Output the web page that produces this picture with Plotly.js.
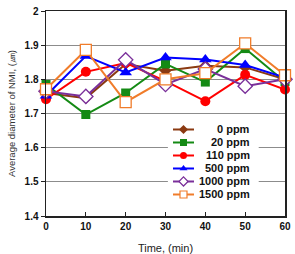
<!DOCTYPE html>
<html>
<head>
<meta charset="utf-8">
<script src="https://cdn.plot.ly/plotly-3.0.1.min.js"></script>
<style>
  html, body { margin: 0; padding: 0; background: #fff; }
  #chart { width: 295px; height: 254px; }
</style>
</head>
<body>
<div id="chart"></div>
<script>
// Sampling times (min)
const times = [0, 10, 20, 30, 40, 50, 60];

// Series names (addition level)
const seriesNames = ['0 ppm', '20 ppm', '110 ppm', '500 ppm', '1000 ppm', '1500 ppm'];

// Average inclusion diameter (µm) for each addition level
const ppm0    = [1.76, 1.745, 1.845, 1.825, 1.84, 1.835, 1.80];
const ppm20   = [1.785, 1.697, 1.76, 1.845, 1.792, 1.89, 1.793];
const ppm110  = [1.742, 1.822, 1.848, 1.795, 1.736, 1.813, 1.77];
const ppm500  = [1.752, 1.868, 1.82, 1.864, 1.858, 1.842, 1.805];
const ppm1000 = [1.765, 1.75, 1.857, 1.785, 1.83, 1.78, 1.80];
const ppm1500 = [1.771, 1.886, 1.733, 1.80, 1.818, 1.905, 1.812];

// Axis tick labels
const xTicks = [0, 10, 20, 30, 40, 50, 60];
const yTicks = [1.4, 1.5, 1.6, 1.7, 1.8, 1.9, 2.0];
const yTickText = ['1.4', '1.5', '1.6', '1.7', '1.8', '1.9', '2'];

const seriesValues = [ppm0, ppm20, ppm110, ppm500, ppm1000, ppm1500];

// Marker / line styling per series
const styles = [
  { color: '#8b3a12', symbol: 'diamond',     fill: '#8b3a12', size: 9 },
  { color: '#148a14', symbol: 'square',      fill: '#148a14', size: 9 },
  { color: '#ff0000', symbol: 'circle',      fill: '#ff0000', size: 10 },
  { color: '#0000ff', symbol: 'triangle-up', fill: '#0000ff', size: 11 },
  { color: '#7a2f9a', symbol: 'diamond',     fill: '#ffffff', size: 11 },
  { color: '#f07c2a', symbol: 'square',      fill: '#ffffff', size: 11 }
];

const FONT = 'Liberation Sans, Arial, Helvetica, sans-serif';

const traces = [];

// Data series
seriesNames.forEach((name, i) => {
  const s = styles[i];
  traces.push({
    type: 'scatter',
    mode: 'lines+markers',
    name: name,
    x: times,
    y: seriesValues[i],
    xaxis: 'x', yaxis: 'y',
    line: { color: s.color, width: 2 },
    marker: {
      symbol: s.symbol, size: s.size, color: s.fill,
      line: { color: s.color, width: s.fill === '#ffffff' ? 1.3 : 0 }
    },
    showlegend: false,
    cliponaxis: false
  });
});

// Compact key drawn on its own small axes, one row per series
seriesNames.forEach((name, i) => {
  const s = styles[i];
  traces.push({
    type: 'scatter',
    mode: 'lines+markers',
    x: [0, 0.5, 1],
    y: [name, name, name],
    xaxis: 'x2', yaxis: 'y2',
    line: { color: s.color, width: 2 },
    marker: {
      symbol: s.symbol, size: 7, color: s.fill,
      opacity: [0, 1, 0],
      line: { color: s.color, width: s.fill === '#ffffff' ? 1.2 : 0 }
    },
    showlegend: false,
    hoverinfo: 'skip'
  });
});

// Right-aligned key labels
const annotations = seriesNames.map(name => ({
  xref: 'paper', yref: 'y2',
  x: 0.858, y: name,
  xanchor: 'right', yanchor: 'middle',
  text: name,
  showarrow: false,
  borderpad: 0,
  font: { family: FONT, size: 11, color: '#111', weight: 'bold' }
}));

const layout = {
  width: 295,
  height: 254,
  margin: { l: 46, r: 10, t: 11, b: 38, pad: 0 },
  paper_bgcolor: '#ffffff',
  plot_bgcolor: '#ffffff',
  showlegend: false,
  font: { family: FONT, color: '#111' },
  xaxis: {
    range: [0, 60],
    tickvals: xTicks,
    ticks: 'inside',
    ticklen: 4,
    tickcolor: '#222',
    tickfont: { family: FONT, size: 10, color: '#111', weight: 'bold' },
    showgrid: false,
    zeroline: false,
    showline: true,
    linecolor: '#222',
    linewidth: 1.5,
    mirror: true,
    automargin: false,
    title: { text: 'Time, (min)', font: { family: FONT, size: 11, color: '#222' }, standoff: 22 }
  },
  yaxis: {
    range: [1.4, 2.0],
    tickvals: yTicks,
    ticktext: yTickText,
    ticks: 'outside',
    ticklen: 4,
    tickcolor: '#222',
    tickfont: { family: FONT, size: 10, color: '#111', weight: 'bold' },
    showgrid: true,
    gridcolor: '#8c8c8c',
    gridwidth: 1,
    zeroline: false,
    showline: true,
    linecolor: '#222',
    linewidth: 1.5,
    mirror: true,
    title: { text: 'Average diameter of NMI, (㎛)', font: { family: FONT, size: 9.5, color: '#333' }, standoff: 7 }
  },
  xaxis2: {
    domain: [0.5314, 0.6192],
    range: [0, 1],
    anchor: 'y2',
    visible: false,
    fixedrange: true
  },
  yaxis2: {
    domain: [0.0732, 0.4537],
    type: 'category',
    categoryorder: 'array',
    categoryarray: seriesNames,
    range: [5.5, -0.5],
    anchor: 'x2',
    visible: false,
    fixedrange: true
  },
  shapes: [{
    type: 'rect',
    xref: 'x', yref: 'y',
    x0: 30.6, x1: 53.4,
    y0: 1.435, y1: 1.676,
    fillcolor: '#ffffff',
    line: { width: 0 },
    layer: 'between'
  }],
  annotations: annotations
};

Plotly.newPlot('chart', traces, layout, { displayModeBar: false, staticPlot: true });
</script>
</body>
</html>
